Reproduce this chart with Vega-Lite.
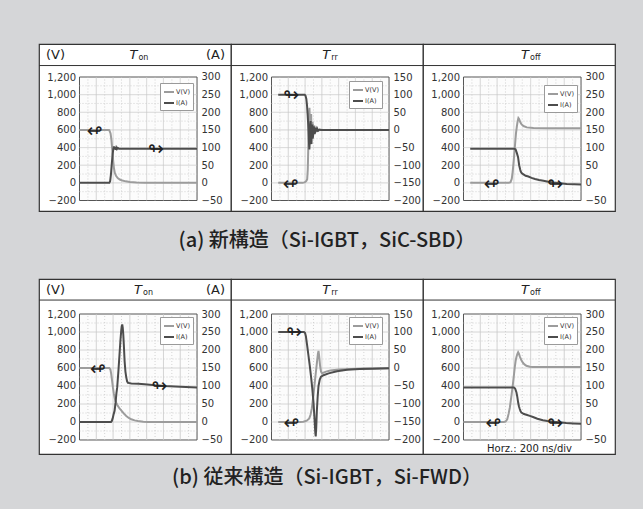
{
"$schema":"https://vega.github.io/schema/vega-lite/v6.json",
"background":"#d5d6d8",
"padding":{"left":37,"top":43,"right":30,"bottom":21},
"config":{
 "view":{"fill":"white","stroke":"#333","strokeWidth":1.2},
 "axis":{"domain":false,"ticks":false,"grid":false,"labelFont":"DejaVu Sans","labelFontSize":10,"labelColor":"#333","labelPadding":4,"labelOverlap":false,"labelBound":false,"labelFlush":false,"tickCount":20},
 "text":{"font":"DejaVu Sans","color":"#222"},
 "legend":{"symbolType":"stroke","symbolSize":100,"symbolStrokeWidth":2,"labelFont":"DejaVu Sans","labelFontSize":6.5,"labelColor":"#333","padding":3,"rowPadding":1,"strokeColor":"#9a9a9a","fillColor":"#ffffff","labelOffset":1}
},
"datasets":{
 "gridx":[{"t":100,"kind":"minor"},{"t":200,"kind":"major"},{"t":300,"kind":"minor"},{"t":400,"kind":"major"},{"t":500,"kind":"minor"},{"t":600,"kind":"major"},{"t":700,"kind":"minor"},{"t":800,"kind":"major"},{"t":900,"kind":"minor"},{"t":1000,"kind":"major"},{"t":1100,"kind":"minor"},{"t":1200,"kind":"major"},{"t":1300,"kind":"minor"}],
 "gridy":[{"v":-100,"kind":"minor"},{"v":0,"kind":"major"},{"v":100,"kind":"minor"},{"v":200,"kind":"major"},{"v":300,"kind":"minor"},{"v":400,"kind":"major"},{"v":500,"kind":"minor"},{"v":600,"kind":"major"},{"v":700,"kind":"minor"},{"v":800,"kind":"major"},{"v":900,"kind":"minor"},{"v":1000,"kind":"major"},{"v":1100,"kind":"minor"}],
 "a1_V":[{"t":0,"v":600},{"t":340,"v":600},{"t":355,"v":597},{"t":370,"v":560},{"t":380,"v":490},{"t":390,"v":380},{"t":400,"v":260},{"t":410,"v":170},{"t":420,"v":115},{"t":435,"v":80},{"t":455,"v":55},{"t":480,"v":38},{"t":510,"v":26},{"t":550,"v":17},{"t":600,"v":10},{"t":680,"v":5},{"t":780,"v":2},{"t":900,"v":0},{"t":1400,"v":0}],
 "a1_I":[{"t":0,"i":0},{"t":355,"i":0},{"t":365,"i":5},{"t":375,"i":25},{"t":385,"i":55},{"t":395,"i":82},{"t":403,"i":96},{"t":410,"i":103},{"t":417,"i":95},{"t":424,"i":101},{"t":431,"i":94},{"t":438,"i":100},{"t":446,"i":96},{"t":455,"i":99},{"t":470,"i":97},{"t":1400,"i":97}],
 "a2_V":[{"t":80,"v":0},{"t":370,"v":0},{"t":390,"v":5},{"t":405,"v":12},{"t":415,"v":22},{"t":425,"v":40},{"t":432,"v":150},{"t":437,"v":350},{"t":442,"v":600},{"t":447,"v":800},{"t":452,"v":850},{"t":457,"v":700},{"t":462,"v":540},{"t":467,"v":720},{"t":472,"v":780},{"t":477,"v":560},{"t":482,"v":520},{"t":487,"v":690},{"t":492,"v":660},{"t":497,"v":550},{"t":503,"v":580},{"t":509,"v":650},{"t":515,"v":620},{"t":521,"v":570},{"t":528,"v":590},{"t":536,"v":620},{"t":545,"v":605},{"t":555,"v":590},{"t":570,"v":598},{"t":590,"v":602},{"t":620,"v":600},{"t":1400,"v":600}],
 "a2_I":[{"t":80,"i":100},{"t":395,"i":100},{"t":405,"i":97},{"t":415,"i":88},{"t":423,"i":70},{"t":430,"i":45},{"t":436,"i":20},{"t":441,"i":-5},{"t":446,"i":-35},{"t":451,"i":-55},{"t":456,"i":-30},{"t":461,"i":15},{"t":466,"i":25},{"t":471,"i":-35},{"t":476,"i":-40},{"t":481,"i":10},{"t":486,"i":15},{"t":491,"i":-25},{"t":496,"i":-15},{"t":502,"i":10},{"t":508,"i":5},{"t":514,"i":-12},{"t":520,"i":-5},{"t":528,"i":6},{"t":536,"i":-4},{"t":545,"i":3},{"t":555,"i":-2},{"t":570,"i":1},{"t":590,"i":0},{"t":1400,"i":0}],
 "a3_V":[{"t":80,"v":0},{"t":540,"v":0},{"t":560,"v":8},{"t":575,"v":46},{"t":585,"v":120},{"t":595,"v":217},{"t":605,"v":330},{"t":615,"v":446},{"t":625,"v":560},{"t":635,"v":636},{"t":645,"v":700},{"t":654,"v":735},{"t":662,"v":725},{"t":674,"v":693},{"t":690,"v":665},{"t":714,"v":644},{"t":754,"v":629},{"t":833,"v":621},{"t":1000,"v":618},{"t":1400,"v":618}],
 "a3_I":[{"t":80,"i":97},{"t":600,"i":97},{"t":620,"i":95},{"t":635,"i":85},{"t":650,"i":73},{"t":663,"i":50},{"t":675,"i":38},{"t":682,"i":32},{"t":695,"i":27},{"t":714,"i":24},{"t":740,"i":20},{"t":773,"i":18},{"t":810,"i":14},{"t":852,"i":11},{"t":900,"i":8},{"t":952,"i":6},{"t":1010,"i":3},{"t":1071,"i":1},{"t":1150,"i":-1},{"t":1229,"i":-3},{"t":1320,"i":-4},{"t":1400,"i":-5}],
 "b1_V":[{"t":0,"v":600},{"t":355,"v":600},{"t":368,"v":585},{"t":378,"v":533},{"t":388,"v":460},{"t":398,"v":384},{"t":408,"v":320},{"t":418,"v":272},{"t":428,"v":240},{"t":437,"v":216},{"t":447,"v":195},{"t":457,"v":179},{"t":477,"v":150},{"t":497,"v":130},{"t":527,"v":95},{"t":557,"v":67},{"t":587,"v":45},{"t":617,"v":30},{"t":657,"v":18},{"t":696,"v":11},{"t":760,"v":4},{"t":815,"v":0},{"t":1400,"v":0}],
 "b1_I":[{"t":0,"i":0},{"t":375,"i":0},{"t":385,"i":3},{"t":395,"i":10},{"t":405,"i":20},{"t":418,"i":31},{"t":430,"i":55},{"t":440,"i":80},{"t":449,"i":96},{"t":463,"i":140},{"t":477,"i":189},{"t":487,"i":225},{"t":497,"i":254},{"t":503,"i":266},{"t":509,"i":271},{"t":515,"i":262},{"t":521,"i":245},{"t":529,"i":210},{"t":537,"i":170},{"t":547,"i":140},{"t":557,"i":124},{"t":567,"i":113},{"t":577,"i":109},{"t":597,"i":108},{"t":617,"i":107},{"t":700,"i":106},{"t":776,"i":105},{"t":900,"i":102},{"t":1014,"i":100},{"t":1200,"i":98},{"t":1400,"i":96}],
 "b2_V":[{"t":80,"v":0},{"t":340,"v":0},{"t":380,"v":3},{"t":420,"v":15},{"t":450,"v":40},{"t":465,"v":80},{"t":480,"v":150},{"t":500,"v":300},{"t":520,"v":480},{"t":540,"v":650},{"t":553,"v":760},{"t":560,"v":790},{"t":568,"v":730},{"t":578,"v":630},{"t":590,"v":560},{"t":603,"v":540},{"t":620,"v":548},{"t":650,"v":560},{"t":700,"v":572},{"t":800,"v":582},{"t":950,"v":590},{"t":1100,"v":595},{"t":1400,"v":598}],
 "b2_I":[{"t":80,"i":100},{"t":386,"i":100},{"t":400,"i":97},{"t":410,"i":88},{"t":425,"i":62},{"t":440,"i":35},{"t":455,"i":8},{"t":470,"i":-22},{"t":485,"i":-55},{"t":500,"i":-95},{"t":512,"i":-140},{"t":522,"i":-180},{"t":527,"i":-190},{"t":533,"i":-165},{"t":540,"i":-120},{"t":550,"i":-80},{"t":560,"i":-50},{"t":575,"i":-32},{"t":590,"i":-24},{"t":620,"i":-20},{"t":680,"i":-15},{"t":780,"i":-9},{"t":900,"i":-5},{"t":1050,"i":-3},{"t":1200,"i":-2},{"t":1400,"i":-1}],
 "b3_V":[{"t":0,"v":0},{"t":480,"v":0},{"t":500,"v":5},{"t":521,"v":30},{"t":537,"v":90},{"t":552,"v":161},{"t":568,"v":270},{"t":584,"v":385},{"t":598,"v":500},{"t":611,"v":610},{"t":621,"v":680},{"t":631,"v":722},{"t":641,"v":755},{"t":651,"v":775},{"t":660,"v":760},{"t":670,"v":729},{"t":690,"v":685},{"t":710,"v":655},{"t":730,"v":637},{"t":749,"v":625},{"t":790,"v":615},{"t":828,"v":610},{"t":1000,"v":610},{"t":1400,"v":610}],
 "b3_I":[{"t":0,"i":96},{"t":600,"i":96},{"t":615,"i":93},{"t":631,"i":82},{"t":641,"i":70},{"t":651,"i":54},{"t":660,"i":44},{"t":670,"i":36},{"t":680,"i":30},{"t":690,"i":26},{"t":720,"i":22},{"t":749,"i":20},{"t":790,"i":17},{"t":828,"i":14},{"t":880,"i":9},{"t":946,"i":5},{"t":1000,"i":3},{"t":1065,"i":1},{"t":1140,"i":-1},{"t":1223,"i":-3},{"t":1310,"i":-4},{"t":1400,"i":-5}]
},
"vconcat":[
 {"hconcat":[
  {"width":192,"height":167,"layer":[
   {"layer":[
    {"data":{"values":[{}]},"mark":{"type":"rect","fill":"#fcfcfc","stroke":"#555","strokeWidth":1},"encoding":{"x":{"datum":0,"type":"quantitative","scale":{"domain":[-482.4,1804.6],"nice":false,"zero":false},"axis":null},"x2":{"datum":1400},"y":{"datum":-200,"type":"quantitative","scale":{"domain":[-319,1574.1],"nice":false,"zero":false},"axis":{"orient":"left","offset":-40.5,"values":[-200,0,200,400,600,800,1000,1200],"format":",d","title":null,"labelOverlap":false,"tickCount":20}},"y2":{"datum":1200}}},
    {"data":{"name":"gridx"},"mark":{"type":"rule","stroke":"#c8c8c8","strokeWidth":0.8},"encoding":{"x":{"field":"t","type":"quantitative","axis":null},"y":{"datum":-200,"type":"quantitative"},"y2":{"datum":1200},"strokeDash":{"field":"kind","type":"nominal","scale":{"domain":["major","minor"],"range":[[1,0],[1,2]]},"legend":null}}},
    {"data":{"name":"gridy"},"mark":{"type":"rule","stroke":"#c8c8c8","strokeWidth":0.8},"encoding":{"y":{"field":"v","type":"quantitative"},"x":{"datum":0,"type":"quantitative","axis":null},"x2":{"datum":1400},"strokeDash":{"field":"kind","type":"nominal","legend":null}}},
    {"data":{"values":[{}]},"mark":{"type":"rule","stroke":"#333","strokeWidth":1},"encoding":{"y":{"datum":1330,"type":"quantitative"}}},
    {"data":{"values":[{}]},"mark":{"type":"text","align":"left","baseline":"middle","fontSize":13},"encoding":{"x":{"datum":-400,"type":"quantitative","axis":null},"y":{"datum":1455,"type":"quantitative"},"text":{"value":"(V)"}}},
    {"data":{"values":[{}]},"mark":{"type":"text","align":"right","baseline":"middle","fontSize":13},"encoding":{"x":{"datum":1733,"type":"quantitative","axis":null},"y":{"datum":1455,"type":"quantitative"},"text":{"value":"(A)"}}},
    {"data":{"values":[{}]},"mark":{"type":"text","align":"right","baseline":"middle","fontSize":13,"fontStyle":"italic"},"encoding":{"x":{"datum":690,"type":"quantitative","axis":null},"y":{"datum":1455,"type":"quantitative"},"text":{"value":"T"}}},
    {"data":{"values":[{}]},"mark":{"type":"text","align":"left","baseline":"middle","fontSize":8,"dx":1,"dy":3},"encoding":{"x":{"datum":690,"type":"quantitative","axis":null},"y":{"datum":1455,"type":"quantitative"},"text":{"value":"on"}}},
    {"data":{"name":"a1_V"},"mark":{"type":"line","strokeWidth":2},"encoding":{"x":{"field":"t","type":"quantitative","axis":null},"y":{"field":"v","type":"quantitative"},"color":{"datum":"V(V)","type":"nominal","scale":{"domain":["V(V)","I(A)"],"range":["#9c9c9c","#4d4d4d"]},"legend":{"orient":"none","legendX":121,"legendY":39,"title":null}}}},
    {"data":{"values":[{}]},"mark":{"type":"text","fontSize":19,"baseline":"middle"},"encoding":{"x":{"datum":180,"type":"quantitative","axis":null},"y":{"datum":590,"type":"quantitative"},"text":{"value":"↫"}}}
   ]},
   {"layer":[
    {"data":{"name":"a1_I"},"mark":{"type":"line","strokeWidth":2},"encoding":{"x":{"field":"t","type":"quantitative","axis":null},"y":{"field":"i","type":"quantitative","scale":{"domain":[-79.75,393.5],"nice":false,"zero":false},"axis":{"orient":"right","offset":-34,"values":[-50,0,50,100,150,200,250,300],"format":",d","title":null,"labelOverlap":false,"tickCount":20}},"color":{"datum":"I(A)","type":"nominal"}}},
    {"data":{"values":[{}]},"mark":{"type":"text","fontSize":19,"baseline":"middle"},"encoding":{"x":{"datum":910,"type":"quantitative","axis":null},"y":{"datum":97,"type":"quantitative"},"text":{"value":"↬"}}}
   ]}
  ],"resolve":{"scale":{"y":"independent"}}},
  {"width":192,"height":167,"layer":[
   {"layer":[
    {"data":{"values":[{}]},"mark":{"type":"rect","fill":"#fcfcfc","stroke":"#555","strokeWidth":1},"encoding":{"x":{"datum":0,"type":"quantitative","scale":{"domain":[-482.4,1804.6],"nice":false,"zero":false},"axis":null},"x2":{"datum":1400},"y":{"datum":-200,"type":"quantitative","scale":{"domain":[-319,1574.1],"nice":false,"zero":false},"axis":{"orient":"left","offset":-40.5,"values":[-200,0,200,400,600,800,1000,1200],"format":",d","title":null,"labelOverlap":false,"tickCount":20}},"y2":{"datum":1200}}},
    {"data":{"name":"gridx"},"mark":{"type":"rule","stroke":"#c8c8c8","strokeWidth":0.8},"encoding":{"x":{"field":"t","type":"quantitative","axis":null},"y":{"datum":-200,"type":"quantitative"},"y2":{"datum":1200},"strokeDash":{"field":"kind","type":"nominal","scale":{"domain":["major","minor"],"range":[[1,0],[1,2]]},"legend":null}}},
    {"data":{"name":"gridy"},"mark":{"type":"rule","stroke":"#c8c8c8","strokeWidth":0.8},"encoding":{"y":{"field":"v","type":"quantitative"},"x":{"datum":0,"type":"quantitative","axis":null},"x2":{"datum":1400},"strokeDash":{"field":"kind","type":"nominal","legend":null}}},
    {"data":{"values":[{}]},"mark":{"type":"rule","stroke":"#333","strokeWidth":1},"encoding":{"y":{"datum":1330,"type":"quantitative"}}},
    {"data":{"values":[{}]},"mark":{"type":"text","align":"right","baseline":"middle","fontSize":13,"fontStyle":"italic"},"encoding":{"x":{"datum":700,"type":"quantitative","axis":null},"y":{"datum":1455,"type":"quantitative"},"text":{"value":"T"}}},
    {"data":{"values":[{}]},"mark":{"type":"text","align":"left","baseline":"middle","fontSize":8,"dx":1,"dy":3},"encoding":{"x":{"datum":700,"type":"quantitative","axis":null},"y":{"datum":1455,"type":"quantitative"},"text":{"value":"rr"}}},
    {"data":{"name":"a2_V"},"mark":{"type":"line","strokeWidth":2},"encoding":{"x":{"field":"t","type":"quantitative","axis":null},"y":{"field":"v","type":"quantitative"},"color":{"datum":"V(V)","type":"nominal","scale":{"domain":["V(V)","I(A)"],"range":["#9c9c9c","#4d4d4d"]},"legend":{"orient":"none","legendX":118,"legendY":37,"title":null}}}},
    {"data":{"values":[{}]},"mark":{"type":"text","fontSize":19,"baseline":"middle"},"encoding":{"x":{"datum":230,"type":"quantitative","axis":null},"y":{"datum":-10,"type":"quantitative"},"text":{"value":"↫"}}}
   ]},
   {"layer":[
    {"data":{"name":"a2_I"},"mark":{"type":"line","strokeWidth":2},"encoding":{"x":{"field":"t","type":"quantitative","axis":null},"y":{"field":"i","type":"quantitative","scale":{"domain":[-229.75,243.525],"nice":false,"zero":false},"axis":{"orient":"right","offset":-34,"values":[-200,-150,-100,-50,0,50,100,150],"format":",d","title":null,"labelOverlap":false,"tickCount":20}},"color":{"datum":"I(A)","type":"nominal"}}},
    {"data":{"values":[{}]},"mark":{"type":"text","fontSize":19,"baseline":"middle"},"encoding":{"x":{"datum":235,"type":"quantitative","axis":null},"y":{"datum":100,"type":"quantitative"},"text":{"value":"↬"}}}
   ]}
  ],"resolve":{"scale":{"y":"independent"}}},
  {"width":192,"height":167,"layer":[
   {"layer":[
    {"data":{"values":[{}]},"mark":{"type":"rect","fill":"#fcfcfc","stroke":"#555","strokeWidth":1},"encoding":{"x":{"datum":0,"type":"quantitative","scale":{"domain":[-482.4,1804.6],"nice":false,"zero":false},"axis":null},"x2":{"datum":1400},"y":{"datum":-200,"type":"quantitative","scale":{"domain":[-319,1574.1],"nice":false,"zero":false},"axis":{"orient":"left","offset":-40.5,"values":[-200,0,200,400,600,800,1000,1200],"format":",d","title":null,"labelOverlap":false,"tickCount":20}},"y2":{"datum":1200}}},
    {"data":{"name":"gridx"},"mark":{"type":"rule","stroke":"#c8c8c8","strokeWidth":0.8},"encoding":{"x":{"field":"t","type":"quantitative","axis":null},"y":{"datum":-200,"type":"quantitative"},"y2":{"datum":1200},"strokeDash":{"field":"kind","type":"nominal","scale":{"domain":["major","minor"],"range":[[1,0],[1,2]]},"legend":null}}},
    {"data":{"name":"gridy"},"mark":{"type":"rule","stroke":"#c8c8c8","strokeWidth":0.8},"encoding":{"y":{"field":"v","type":"quantitative"},"x":{"datum":0,"type":"quantitative","axis":null},"x2":{"datum":1400},"strokeDash":{"field":"kind","type":"nominal","legend":null}}},
    {"data":{"values":[{}]},"mark":{"type":"rule","stroke":"#333","strokeWidth":1},"encoding":{"y":{"datum":1330,"type":"quantitative"}}},
    {"data":{"values":[{}]},"mark":{"type":"text","align":"right","baseline":"middle","fontSize":13,"fontStyle":"italic"},"encoding":{"x":{"datum":780,"type":"quantitative","axis":null},"y":{"datum":1455,"type":"quantitative"},"text":{"value":"T"}}},
    {"data":{"values":[{}]},"mark":{"type":"text","align":"left","baseline":"middle","fontSize":8,"dx":1,"dy":3},"encoding":{"x":{"datum":780,"type":"quantitative","axis":null},"y":{"datum":1455,"type":"quantitative"},"text":{"value":"off"}}},
    {"data":{"name":"a3_V"},"mark":{"type":"line","strokeWidth":2},"encoding":{"x":{"field":"t","type":"quantitative","axis":null},"y":{"field":"v","type":"quantitative"},"color":{"datum":"V(V)","type":"nominal","scale":{"domain":["V(V)","I(A)"],"range":["#9c9c9c","#4d4d4d"]},"legend":{"orient":"none","legendX":121,"legendY":41,"title":null}}}},
    {"data":{"values":[{}]},"mark":{"type":"text","fontSize":19,"baseline":"middle"},"encoding":{"x":{"datum":337,"type":"quantitative","axis":null},"y":{"datum":-10,"type":"quantitative"},"text":{"value":"↫"}}}
   ]},
   {"layer":[
    {"data":{"name":"a3_I"},"mark":{"type":"line","strokeWidth":2},"encoding":{"x":{"field":"t","type":"quantitative","axis":null},"y":{"field":"i","type":"quantitative","scale":{"domain":[-79.75,393.5],"nice":false,"zero":false},"axis":{"orient":"right","offset":-34,"values":[-50,0,50,100,150,200,250,300],"format":",d","title":null,"labelOverlap":false,"tickCount":20}},"color":{"datum":"I(A)","type":"nominal"}}},
    {"data":{"values":[{}]},"mark":{"type":"text","fontSize":19,"baseline":"middle"},"encoding":{"x":{"datum":1092,"type":"quantitative","axis":null},"y":{"datum":-2,"type":"quantitative"},"text":{"value":"↬"}}}
   ]}
  ],"resolve":{"scale":{"y":"independent"}}}
 ],
 "spacing":0,"bounds":"flush",
 "title":{"text":"(a) 新構造（Si-IGBT，SiC-SBD）","orient":"bottom","anchor":"middle","offset":19,"font":"Noto Sans CJK JP","fontSize":20,"fontWeight":500,"color":"#222"},
 "resolve":{"scale":{"color":"independent"},"legend":{"color":"independent"}}},
 {"hconcat":[
  {"width":192,"height":175,"layer":[
   {"layer":[
    {"data":{"values":[{}]},"mark":{"type":"rect","fill":"#fcfcfc","stroke":"#555","strokeWidth":1},"encoding":{"x":{"datum":0,"type":"quantitative","scale":{"domain":[-482.4,1804.6],"nice":false,"zero":false},"axis":null},"x2":{"datum":1400},"y":{"datum":-200,"type":"quantitative","scale":{"domain":[-355.6,1588.9],"nice":false,"zero":false},"axis":{"orient":"left","offset":-40.5,"values":[-200,0,200,400,600,800,1000,1200],"format":",d","title":null,"labelOverlap":false,"tickCount":20}},"y2":{"datum":1200}}},
    {"data":{"name":"gridx"},"mark":{"type":"rule","stroke":"#c8c8c8","strokeWidth":0.8},"encoding":{"x":{"field":"t","type":"quantitative","axis":null},"y":{"datum":-200,"type":"quantitative"},"y2":{"datum":1200},"strokeDash":{"field":"kind","type":"nominal","scale":{"domain":["major","minor"],"range":[[1,0],[1,2]]},"legend":null}}},
    {"data":{"name":"gridy"},"mark":{"type":"rule","stroke":"#c8c8c8","strokeWidth":0.8},"encoding":{"y":{"field":"v","type":"quantitative"},"x":{"datum":0,"type":"quantitative","axis":null},"x2":{"datum":1400},"strokeDash":{"field":"kind","type":"nominal","legend":null}}},
    {"data":{"values":[{}]},"mark":{"type":"rule","stroke":"#333","strokeWidth":1},"encoding":{"y":{"datum":1355,"type":"quantitative"}}},
    {"data":{"values":[{}]},"mark":{"type":"text","align":"left","baseline":"middle","fontSize":13},"encoding":{"x":{"datum":-400,"type":"quantitative","axis":null},"y":{"datum":1472,"type":"quantitative"},"text":{"value":"(V)"}}},
    {"data":{"values":[{}]},"mark":{"type":"text","align":"right","baseline":"middle","fontSize":13},"encoding":{"x":{"datum":1733,"type":"quantitative","axis":null},"y":{"datum":1472,"type":"quantitative"},"text":{"value":"(A)"}}},
    {"data":{"values":[{}]},"mark":{"type":"text","align":"right","baseline":"middle","fontSize":13,"fontStyle":"italic"},"encoding":{"x":{"datum":745,"type":"quantitative","axis":null},"y":{"datum":1472,"type":"quantitative"},"text":{"value":"T"}}},
    {"data":{"values":[{}]},"mark":{"type":"text","align":"left","baseline":"middle","fontSize":8,"dx":1,"dy":3},"encoding":{"x":{"datum":745,"type":"quantitative","axis":null},"y":{"datum":1472,"type":"quantitative"},"text":{"value":"on"}}},
    {"data":{"name":"b1_V"},"mark":{"type":"line","strokeWidth":2},"encoding":{"x":{"field":"t","type":"quantitative","axis":null},"y":{"field":"v","type":"quantitative"},"color":{"datum":"V(V)","type":"nominal","scale":{"domain":["V(V)","I(A)"],"range":["#9c9c9c","#4d4d4d"]},"legend":{"orient":"none","legendX":121,"legendY":38,"title":null}}}},
    {"data":{"values":[{}]},"mark":{"type":"text","fontSize":19,"baseline":"middle"},"encoding":{"x":{"datum":219,"type":"quantitative","axis":null},"y":{"datum":590,"type":"quantitative"},"text":{"value":"↫"}}}
   ]},
   {"layer":[
    {"data":{"name":"b1_I"},"mark":{"type":"line","strokeWidth":2},"encoding":{"x":{"field":"t","type":"quantitative","axis":null},"y":{"field":"i","type":"quantitative","scale":{"domain":[-88.9,397.225],"nice":false,"zero":false},"axis":{"orient":"right","offset":-34,"values":[-50,0,50,100,150,200,250,300],"format":",d","title":null,"labelOverlap":false,"tickCount":20}},"color":{"datum":"I(A)","type":"nominal"}}},
    {"data":{"values":[{}]},"mark":{"type":"text","fontSize":19,"baseline":"middle"},"encoding":{"x":{"datum":953,"type":"quantitative","axis":null},"y":{"datum":100,"type":"quantitative"},"text":{"value":"↬"}}}
   ]}
  ],"resolve":{"scale":{"y":"independent"}}},
  {"width":192,"height":175,"layer":[
   {"layer":[
    {"data":{"values":[{}]},"mark":{"type":"rect","fill":"#fcfcfc","stroke":"#555","strokeWidth":1},"encoding":{"x":{"datum":0,"type":"quantitative","scale":{"domain":[-482.4,1804.6],"nice":false,"zero":false},"axis":null},"x2":{"datum":1400},"y":{"datum":-200,"type":"quantitative","scale":{"domain":[-355.6,1588.9],"nice":false,"zero":false},"axis":{"orient":"left","offset":-40.5,"values":[-200,0,200,400,600,800,1000,1200],"format":",d","title":null,"labelOverlap":false,"tickCount":20}},"y2":{"datum":1200}}},
    {"data":{"name":"gridx"},"mark":{"type":"rule","stroke":"#c8c8c8","strokeWidth":0.8},"encoding":{"x":{"field":"t","type":"quantitative","axis":null},"y":{"datum":-200,"type":"quantitative"},"y2":{"datum":1200},"strokeDash":{"field":"kind","type":"nominal","scale":{"domain":["major","minor"],"range":[[1,0],[1,2]]},"legend":null}}},
    {"data":{"name":"gridy"},"mark":{"type":"rule","stroke":"#c8c8c8","strokeWidth":0.8},"encoding":{"y":{"field":"v","type":"quantitative"},"x":{"datum":0,"type":"quantitative","axis":null},"x2":{"datum":1400},"strokeDash":{"field":"kind","type":"nominal","legend":null}}},
    {"data":{"values":[{}]},"mark":{"type":"rule","stroke":"#333","strokeWidth":1},"encoding":{"y":{"datum":1355,"type":"quantitative"}}},
    {"data":{"values":[{}]},"mark":{"type":"text","align":"right","baseline":"middle","fontSize":13,"fontStyle":"italic"},"encoding":{"x":{"datum":700,"type":"quantitative","axis":null},"y":{"datum":1472,"type":"quantitative"},"text":{"value":"T"}}},
    {"data":{"values":[{}]},"mark":{"type":"text","align":"left","baseline":"middle","fontSize":8,"dx":1,"dy":3},"encoding":{"x":{"datum":700,"type":"quantitative","axis":null},"y":{"datum":1472,"type":"quantitative"},"text":{"value":"rr"}}},
    {"data":{"name":"b2_V"},"mark":{"type":"line","strokeWidth":2},"encoding":{"x":{"field":"t","type":"quantitative","axis":null},"y":{"field":"v","type":"quantitative"},"color":{"datum":"V(V)","type":"nominal","scale":{"domain":["V(V)","I(A)"],"range":["#9c9c9c","#4d4d4d"]},"legend":{"orient":"none","legendX":118,"legendY":38,"title":null}}}},
    {"data":{"values":[{}]},"mark":{"type":"text","fontSize":19,"baseline":"middle"},"encoding":{"x":{"datum":238,"type":"quantitative","axis":null},"y":{"datum":-10,"type":"quantitative"},"text":{"value":"↫"}}}
   ]},
   {"layer":[
    {"data":{"name":"b2_I"},"mark":{"type":"line","strokeWidth":2},"encoding":{"x":{"field":"t","type":"quantitative","axis":null},"y":{"field":"i","type":"quantitative","scale":{"domain":[-238.9,247.225],"nice":false,"zero":false},"axis":{"orient":"right","offset":-34,"values":[-200,-150,-100,-50,0,50,100,150],"format":",d","title":null,"labelOverlap":false,"tickCount":20}},"color":{"datum":"I(A)","type":"nominal"}}},
    {"data":{"values":[{}]},"mark":{"type":"text","fontSize":19,"baseline":"middle"},"encoding":{"x":{"datum":270,"type":"quantitative","axis":null},"y":{"datum":100,"type":"quantitative"},"text":{"value":"↬"}}}
   ]}
  ],"resolve":{"scale":{"y":"independent"}}},
  {"width":192,"height":175,"layer":[
   {"layer":[
    {"data":{"values":[{}]},"mark":{"type":"rect","fill":"#fcfcfc","stroke":"#555","strokeWidth":1},"encoding":{"x":{"datum":0,"type":"quantitative","scale":{"domain":[-482.4,1804.6],"nice":false,"zero":false},"axis":null},"x2":{"datum":1400},"y":{"datum":-200,"type":"quantitative","scale":{"domain":[-355.6,1588.9],"nice":false,"zero":false},"axis":{"orient":"left","offset":-40.5,"values":[-200,0,200,400,600,800,1000,1200],"format":",d","title":null,"labelOverlap":false,"tickCount":20}},"y2":{"datum":1200}}},
    {"data":{"name":"gridx"},"mark":{"type":"rule","stroke":"#c8c8c8","strokeWidth":0.8},"encoding":{"x":{"field":"t","type":"quantitative","axis":null},"y":{"datum":-200,"type":"quantitative"},"y2":{"datum":1200},"strokeDash":{"field":"kind","type":"nominal","scale":{"domain":["major","minor"],"range":[[1,0],[1,2]]},"legend":null}}},
    {"data":{"name":"gridy"},"mark":{"type":"rule","stroke":"#c8c8c8","strokeWidth":0.8},"encoding":{"y":{"field":"v","type":"quantitative"},"x":{"datum":0,"type":"quantitative","axis":null},"x2":{"datum":1400},"strokeDash":{"field":"kind","type":"nominal","legend":null}}},
    {"data":{"values":[{}]},"mark":{"type":"rule","stroke":"#333","strokeWidth":1},"encoding":{"y":{"datum":1355,"type":"quantitative"}}},
    {"data":{"values":[{}]},"mark":{"type":"text","align":"right","baseline":"middle","fontSize":13,"fontStyle":"italic"},"encoding":{"x":{"datum":780,"type":"quantitative","axis":null},"y":{"datum":1472,"type":"quantitative"},"text":{"value":"T"}}},
    {"data":{"values":[{}]},"mark":{"type":"text","align":"left","baseline":"middle","fontSize":8,"dx":1,"dy":3},"encoding":{"x":{"datum":780,"type":"quantitative","axis":null},"y":{"datum":1472,"type":"quantitative"},"text":{"value":"off"}}},
    {"data":{"values":[{}]},"mark":{"type":"text","align":"center","baseline":"middle","fontSize":10},"encoding":{"x":{"datum":786,"type":"quantitative","axis":null},"y":{"datum":-297,"type":"quantitative"},"text":{"value":"Horz.: 200 ns/div"}}},
    {"data":{"name":"b3_V"},"mark":{"type":"line","strokeWidth":2},"encoding":{"x":{"field":"t","type":"quantitative","axis":null},"y":{"field":"v","type":"quantitative"},"color":{"datum":"V(V)","type":"nominal","scale":{"domain":["V(V)","I(A)"],"range":["#9c9c9c","#4d4d4d"]},"legend":{"orient":"none","legendX":121,"legendY":38,"title":null}}}},
    {"data":{"values":[{}]},"mark":{"type":"text","fontSize":19,"baseline":"middle"},"encoding":{"x":{"datum":357,"type":"quantitative","axis":null},"y":{"datum":-10,"type":"quantitative"},"text":{"value":"↫"}}}
   ]},
   {"layer":[
    {"data":{"name":"b3_I"},"mark":{"type":"line","strokeWidth":2},"encoding":{"x":{"field":"t","type":"quantitative","axis":null},"y":{"field":"i","type":"quantitative","scale":{"domain":[-88.9,397.225],"nice":false,"zero":false},"axis":{"orient":"right","offset":-34,"values":[-50,0,50,100,150,200,250,300],"format":",d","title":null,"labelOverlap":false,"tickCount":20}},"color":{"datum":"I(A)","type":"nominal"}}},
    {"data":{"values":[{}]},"mark":{"type":"text","fontSize":19,"baseline":"middle"},"encoding":{"x":{"datum":1092,"type":"quantitative","axis":null},"y":{"datum":-2,"type":"quantitative"},"text":{"value":"↬"}}}
   ]}
  ],"resolve":{"scale":{"y":"independent"}}}
 ],
 "spacing":0,"bounds":"flush",
 "title":{"text":"(b) 従来構造（Si-IGBT，Si-FWD）","orient":"bottom","anchor":"middle","offset":13,"font":"Noto Sans CJK JP","fontSize":20,"fontWeight":500,"color":"#222"},
 "resolve":{"scale":{"color":"independent"},"legend":{"color":"independent"}}}
],
"spacing":27,
"resolve":{"scale":{"color":"independent"},"legend":{"color":"independent"}}
}
